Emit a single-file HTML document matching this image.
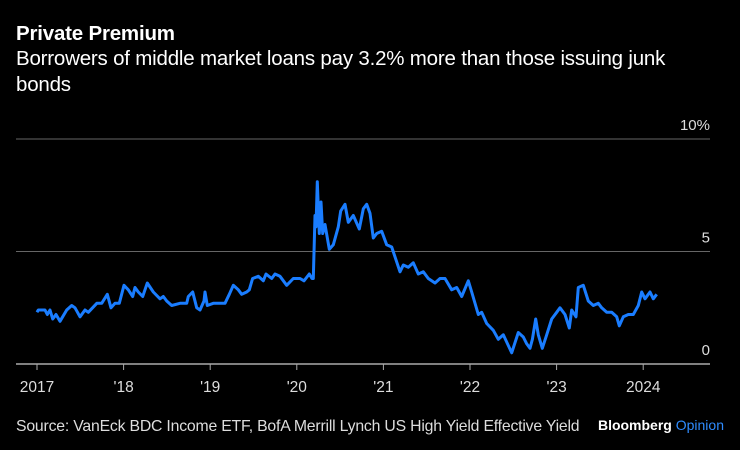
<!DOCTYPE html>
<html><head><meta charset="utf-8"><style>
body{margin:0;background:#000;width:740px;height:450px;overflow:hidden;font-family:"Liberation Sans",sans-serif;color:#fff}
.t{position:absolute;left:16px;top:22px;font-size:20.5px;font-weight:bold;letter-spacing:-0.2px}
.s{position:absolute;left:16px;top:46px;font-size:20.5px;line-height:26px;width:675px;letter-spacing:-0.2px}
.src{position:absolute;left:16px;top:418px;font-size:15.8px;color:#ddd;letter-spacing:-0.2px}
.bo{position:absolute;right:16px;top:417px;font-size:14px;font-weight:bold}
</style></head><body>
<div class="t">Private Premium</div>
<div class="s">Borrowers of middle market loans pay 3.2% more than those issuing junk bonds</div>
<svg width="740" height="450" style="position:absolute;left:0;top:0" id="chart"></svg>
<div class="src">Source: VanEck BDC Income ETF, BofA Merrill Lynch US High Yield Effective Yield</div>
<div class="bo">Bloomberg <span style="color:#2f8cff;font-weight:normal">Opinion</span></div>
<script>
const years=[2017.00,2017.015,2017.092,2017.119,2017.150,2017.181,2017.219,2017.266,2017.343,2017.401,2017.439,2017.497,2017.554,2017.592,2017.690,2017.747,2017.812,2017.855,2017.901,2017.950,2018.005,2018.054,2018.105,2018.132,2018.170,2018.221,2018.274,2018.343,2018.420,2018.458,2018.498,2018.555,2018.651,2018.729,2018.747,2018.798,2018.844,2018.882,2018.928,2018.940,2018.967,2019.036,2019.113,2019.171,2019.221,2019.267,2019.324,2019.364,2019.421,2019.452,2019.490,2019.555,2019.613,2019.644,2019.710,2019.748,2019.806,2019.883,2019.960,2020.037,2020.083,2020.144,2020.176,2020.191,2020.210,2020.222,2020.237,2020.260,2020.279,2020.299,2020.326,2020.375,2020.422,2020.479,2020.507,2020.557,2020.595,2020.652,2020.722,2020.768,2020.807,2020.845,2020.883,2020.923,2020.980,2021.038,2021.096,2021.192,2021.230,2021.288,2021.345,2021.403,2021.461,2021.519,2021.596,2021.654,2021.711,2021.789,2021.846,2021.904,2021.980,2022.020,2022.096,2022.135,2022.193,2022.269,2022.327,2022.385,2022.482,2022.558,2022.616,2022.655,2022.693,2022.720,2022.759,2022.789,2022.835,2022.886,2022.943,2023.001,2023.039,2023.097,2023.147,2023.174,2023.224,2023.251,2023.308,2023.366,2023.424,2023.481,2023.521,2023.578,2023.636,2023.694,2023.724,2023.770,2023.828,2023.886,2023.943,2023.983,2024.021,2024.079,2024.117,2024.156];
const premium=[2.3,2.4,2.4,2.2,2.4,2.0,2.2,1.9,2.4,2.6,2.5,2.1,2.4,2.3,2.7,2.7,3.1,2.5,2.7,2.7,3.5,3.3,3.0,3.4,3.2,3.0,3.6,3.2,2.9,3.0,2.8,2.6,2.7,2.7,3.0,3.2,2.5,2.4,2.8,3.2,2.6,2.7,2.7,2.7,3.1,3.5,3.3,3.1,3.2,3.3,3.8,3.9,3.7,4.0,3.8,4.0,3.9,3.5,3.8,3.8,3.7,4.0,3.8,3.8,6.6,6.1,8.1,5.8,7.2,5.8,6.2,5.1,5.3,6.1,6.8,7.1,6.3,6.6,6.0,6.9,7.1,6.7,5.6,5.8,5.9,5.3,5.2,4.1,4.4,4.3,4.5,4.0,4.1,3.8,3.6,3.8,3.8,3.3,3.4,3.0,3.7,3.2,2.2,2.3,1.8,1.5,1.1,1.3,0.5,1.4,1.2,0.9,0.7,1.1,2.0,1.3,0.7,1.3,2.0,2.3,2.5,2.2,1.6,2.4,2.1,3.4,3.5,2.8,2.6,2.7,2.5,2.3,2.3,2.1,1.7,2.1,2.2,2.2,2.6,3.2,2.9,3.2,2.9,3.1];
const yTicks=[0,5,10];
const yTickLabels=["0","5","10%"];
const xTicks=[2017,2018,2019,2020,2021,2022,2023,2024];
const xTickLabels=["2017","'18","'19","'20","'21","'22","'23","2024"];
const NS="http://www.w3.org/2000/svg",svg=document.getElementById('chart');
const xs=y=>37+(y-2017)*86.6, ys=v=>364-v*22.5;
function mk(t,a,p){const e=document.createElementNS(NS,t);for(const k in a)e.setAttribute(k,a[k]);(p||svg).appendChild(e);return e;}
yTicks.forEach((v,i)=>{
  const l=mk('line',{x1:16,x2:710,y1:ys(v),y2:ys(v),stroke:v===0?'#aaa':'#666','stroke-width':v===0?1.5:1});
  
  
  const t=mk('text',{x:710,y:ys(v)-9,'text-anchor':'end',fill:'#ddd','font-size':15,'font-family':'Liberation Sans'});
  t.textContent=yTickLabels[i];
  
  
});
xTicks.forEach((y,i)=>{
  const l=mk('line',{x1:xs(y),x2:xs(y),y1:364,y2:370,stroke:'#aaa'});
  
  
  const t=mk('text',{x:xs(y),y:392,'text-anchor':'middle',fill:'#ddd','font-size':15.5,'font-family':'Liberation Sans'});
  t.textContent=xTickLabels[i];
  
  
});
const p=mk('polyline',{points:years.map((y,i)=>xs(y).toFixed(1)+','+ys(premium[i]).toFixed(1)).join(' '),fill:'none',stroke:'#1a7dff','stroke-width':3,'stroke-linejoin':'round'});


</script>
</body></html>
